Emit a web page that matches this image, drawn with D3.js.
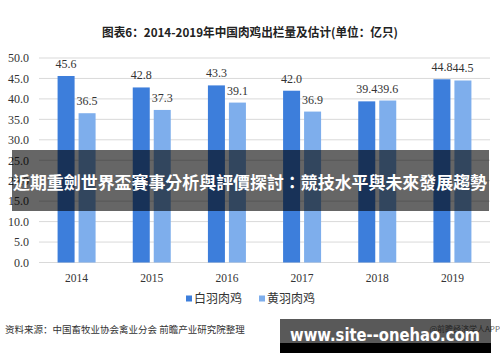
<!DOCTYPE html>
<html>
<head>
<meta charset="utf-8">
<script src="https://cdn.jsdelivr.net/npm/d3@7"></script>
<style>
  html, body { margin: 0; padding: 0; background: #fff; }
  svg { display: block; }
</style>
</head>
<body>
<div id="chart"></div>
<script>
// --- Data ---
const years = ['2014', '2015', '2016', '2017', '2018', '2019'];
const seriesNames = ['白羽肉鸡', '黄羽肉鸡'];
const whiteFeather = [45.6, 42.8, 43.3, 42.0, 39.4, 44.8];
const yellowFeather = [36.5, 37.3, 39.1, 36.9, 39.6, 44.5];
const yTicks = [0, 5, 10, 15, 20, 25, 30, 35, 40, 45, 50];
const colors = ['#3d7edb', '#7eaeec'];

const W = 500, H = 362;

const svg = d3.select('#chart').append('svg')
    .attr('width', W)
    .attr('height', H);

// --- Scales ---
const x = d3.scaleBand()
    .domain(years)
    .range([39, 490])
    .padding(0);

const xs = d3.scaleBand()
    .domain(seriesNames)
    .range([-19, 19])
    .paddingInner(0.19);

const y = d3.scaleLinear()
    .domain([0, 50])
    .range([262.5, 58]);

// --- Title ---
svg.append('text')
    .attr('x', 250)
    .attr('y', 37)
    .attr('text-anchor', 'middle')
    .attr('font-family', '"Noto Sans CJK SC", sans-serif')
    .attr('font-weight', 'bold')
    .attr('font-size', 12)
    .attr('textLength', 296)
    .attr('lengthAdjust', 'spacingAndGlyphs')
    .attr('fill', '#222')
    .text('图表6：2014-2019年中国肉鸡出栏量及估计(单位：亿只)');

// --- Gridlines ---
svg.append('g')
    .selectAll('line')
    .data(yTicks)
    .enter().append('line')
    .attr('x1', 39).attr('x2', 490)
    .attr('y1', d => y(d)).attr('y2', d => y(d))
    .attr('stroke', '#d9d9d9')
    .attr('stroke-width', 1);

// --- Y axis ---
const yAxis = svg.append('g')
    .attr('transform', 'translate(35,0)')
    .call(d3.axisLeft(y).tickValues(yTicks).tickFormat(d3.format('.1f')).tickSize(0).tickPadding(6));
yAxis.select('.domain').remove();
yAxis.selectAll('text')
    .attr('font-family', '"Liberation Serif", serif')
    .attr('font-size', 12)
    .attr('fill', '#333');

// --- X axis ---
const xAxis = svg.append('g')
    .attr('transform', `translate(0,${y(0)})`)
    .call(d3.axisBottom(x).tickSize(0).tickPadding(11));
xAxis.select('.domain').remove();
xAxis.selectAll('text')
    .attr('font-family', '"Liberation Serif", serif')
    .attr('font-size', 11.5)
    .attr('fill', '#333');

// --- Bars ---
const seriesData = [whiteFeather, yellowFeather];
seriesData.forEach((vals, si) => {
    const rows = years.map((yr, i) => ({ year: yr, value: vals[i] }));
    const g = svg.append('g');
    g.selectAll('rect')
        .data(rows)
        .enter().append('rect')
        .attr('x', d => x(d.year) + x.bandwidth() / 2 + xs(seriesNames[si]))
        .attr('y', d => y(d.value))
        .attr('width', xs.bandwidth())
        .attr('height', d => y(0) - y(d.value))
        .attr('fill', colors[si]);

    g.selectAll('text')
        .data(rows)
        .enter().append('text')
        .attr('x', d => x(d.year) + x.bandwidth() / 2 + xs(seriesNames[si]) + xs.bandwidth() / 2)
        .attr('y', d => y(d.value) - 8)
        .attr('text-anchor', 'middle')
        .attr('font-family', '"Liberation Serif", serif')
        .attr('font-size', 12)
        .attr('fill', '#333')
        .text(d => d.value.toFixed(1));
});

// --- Legend ---
const legendX = [186, 259];
seriesNames.forEach((name, i) => {
    svg.append('rect')
        .attr('x', legendX[i])
        .attr('y', 295.5)
        .attr('width', 6)
        .attr('height', 6)
        .attr('fill', colors[i]);
    svg.append('text')
        .attr('x', legendX[i] + 8)
        .attr('y', 303)
        .attr('font-family', '"Noto Sans CJK SC", sans-serif')
        .attr('font-size', 12)
        .attr('fill', '#333')
        .text(name);
});

// --- Source note ---
svg.append('text')
    .attr('x', 5)
    .attr('y', 333)
    .attr('font-family', '"Noto Sans CJK SC", sans-serif')
    .attr('font-size', 9.5)
    .attr('fill', '#333')
    .text('资料来源：中国畜牧业协会禽业分会 前瞻产业研究院整理');

svg.append('text')
    .attr('x', 500)
    .attr('y', 332)
    .attr('text-anchor', 'end')
    .attr('font-family', '"Noto Sans CJK SC", sans-serif')
    .attr('font-size', 8)
    .attr('fill', '#666')
    .text('@前瞻经济学人APP');

// --- Overlay banner ---
svg.append('rect')
    .attr('x', 12)
    .attr('y', 150)
    .attr('width', 477)
    .attr('height', 61)
    .attr('fill', 'rgba(0,0,0,0.6)');

svg.append('text')
    .attr('x', 250)
    .attr('y', 189)
    .attr('text-anchor', 'middle')
    .attr('font-family', '"Noto Sans CJK TC", sans-serif')
    .attr('font-weight', 'bold')
    .attr('font-size', 17)
    .attr('textLength', 474)
    .attr('lengthAdjust', 'spacingAndGlyphs')
    .attr('fill', '#fff')
    .text('近期重劍世界盃賽事分析與評價探討：競技水平與未來發展趨勢');

// --- Site watermark box ---
svg.append('rect')
    .attr('x', 280)
    .attr('y', 319)
    .attr('width', 211)
    .attr('height', 24)
    .attr('fill', 'rgba(0,0,0,0.65)');
svg.append('rect')
    .attr('x', 280)
    .attr('y', 343)
    .attr('width', 211)
    .attr('height', 10)
    .attr('fill', '#000');
svg.append('text')
    .attr('x', 385)
    .attr('y', 341)
    .attr('text-anchor', 'middle')
    .attr('font-family', '"DejaVu Sans", sans-serif')
    .attr('font-weight', 'bold')
    .attr('font-size', 17)
    .attr('textLength', 190)
    .attr('lengthAdjust', 'spacingAndGlyphs')
    .attr('fill', '#fff')
    .text('www.site--onehao.com');
</script>
</body>
</html>
